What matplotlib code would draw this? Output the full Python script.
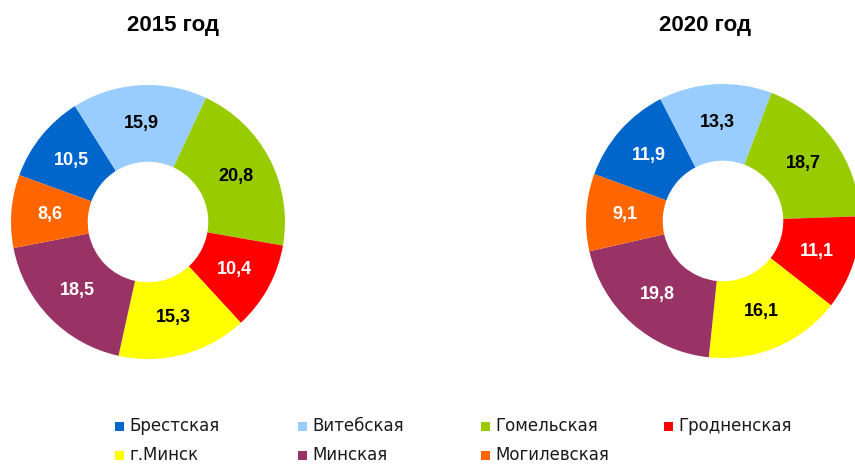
import matplotlib
matplotlib.use("Agg")
import matplotlib.pyplot as plt
from matplotlib.patches import Rectangle

legend_labels = ["Брестская", "Витебская", "Гомельская", "Гродненская",
                 "г.Минск", "Минская", "Могилевская"]
values_2015 = [10.5, 15.9, 20.8, 10.4, 15.3, 18.5, 8.6]
values_2020 = [11.9, 13.3, 18.7, 11.1, 16.1, 19.8, 9.1]
titles = ["2015 год", "2020 год"]

colors = ["#0066CC", "#99CCFF", "#99CC00", "#FF0000", "#FFFF00", "#993366", "#FF6600"]
label_colors = ["white", "black", "black", "white", "black", "white", "white"]

plt.rcParams['font.family'] = ['Liberation Sans', 'DejaVu Sans']

W, H = 855, 468
fig = plt.figure(figsize=(W / 100, H / 100), dpi=100)

R = 137
centers = [(148, 222), (723, 221)]
title_x = [173, 705]

for vals, (cx, cy), title, tx in zip([values_2015, values_2020], centers, titles, title_x):
    ax = fig.add_axes([(cx - R) / W, (H - cy - R) / H, 2 * R / W, 2 * R / H])
    wedges, texts, autotexts = ax.pie(
        vals, colors=colors, startangle=160, counterclock=False, radius=1,
        wedgeprops=dict(width=0.56, linewidth=0),
        autopct=lambda p: f"{p:.1f}".replace('.', ','), pctdistance=0.72,
        textprops=dict(fontsize=13, fontweight='bold'))
    for t, c in zip(autotexts, label_colors):
        t.set_color(c)
    ax.set_xlim(-1, 1)
    ax.set_ylim(-1, 1)
    ax.set_axis_off()
    fig.text(tx / W, 1 - 25 / H, title, ha='center', va='center',
             fontsize=16, fontweight='bold', color='black')

# legend
x0, dx = 115, 183
rows_y = [426, 455]
sq = 9
for i, (lab, col) in enumerate(zip(legend_labels, colors)):
    r, c = divmod(i, 4)
    x = x0 + c * dx
    y = rows_y[r]
    fig.patches.append(Rectangle((x / W, (H - y - sq / 2) / H), sq / W, sq / H,
                                 facecolor=col, edgecolor='none',
                                 transform=fig.transFigure))
    fig.text((x + sq + 5) / W, 1 - y / H, lab, ha='left', va='center',
             fontsize=12, color='#1a1a1a', family=['DejaVu Sans'])

fig.savefig("out.png", dpi=100)
